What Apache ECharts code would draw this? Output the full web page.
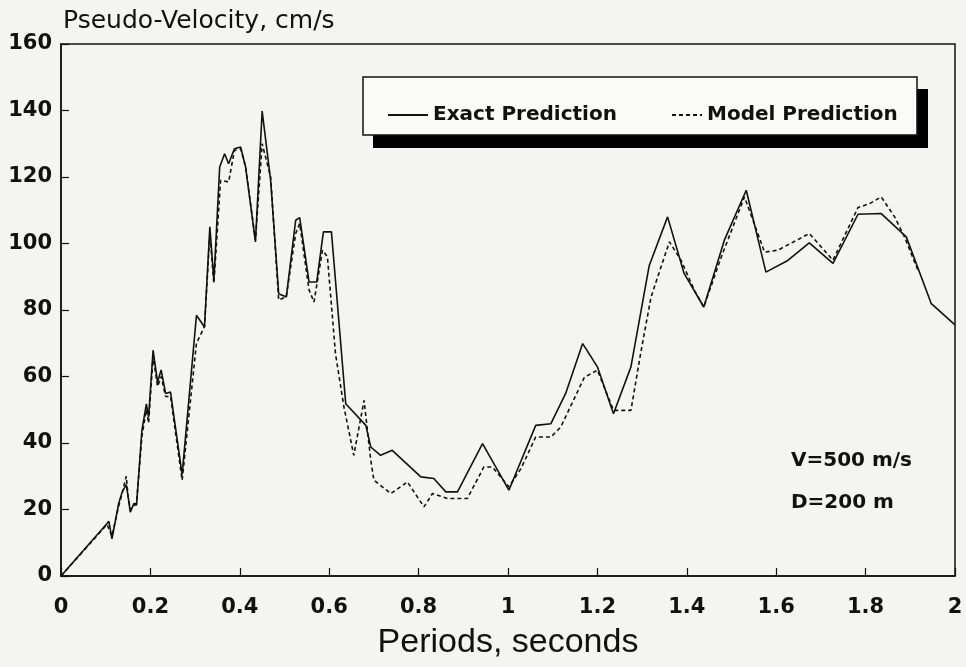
<!DOCTYPE html>
<html>
<head>
<meta charset="utf-8">
<script src="https://cdn.jsdelivr.net/npm/echarts@6/dist/echarts.min.js"></script>
<style>
  html, body { margin: 0; padding: 0; background: #f4f4f2; }
  #main { width: 966px; height: 667px; }
</style>
</head>
<body>
<div id="main"></div>
<script>
// period (s) and pseudo-velocity (cm/s)
var exactX = [0, 0.103, 0.107, 0.114, 0.129, 0.137, 0.146, 0.150, 0.155, 0.163, 0.169, 0.181, 0.191, 0.196, 0.206, 0.216, 0.224, 0.234, 0.245, 0.271,
  0.303, 0.321, 0.333, 0.342, 0.355, 0.366, 0.375, 0.388, 0.402, 0.413, 0.435, 0.450, 0.469, 0.487, 0.504, 0.525, 0.534, 0.555, 0.572, 0.587,
  0.605, 0.637, 0.682, 0.693, 0.715, 0.741, 0.805, 0.834, 0.861, 0.887, 0.943, 1.002, 1.062, 1.096, 1.129, 1.167, 1.200, 1.236, 1.275, 1.316,
  1.357, 1.394, 1.438, 1.484, 1.533, 1.577, 1.626, 1.674, 1.727, 1.783, 1.835, 1.891, 1.947, 2.0];
var exactY = [0, 15.8, 16.5, 11.2, 21.8, 25.3, 27.5, 24, 19.2, 21.8, 21.3, 43.8, 51.8, 47.8, 67.9, 58.3, 62, 54.9, 55.3, 30.5,
  78.4, 74.9, 105, 88.9, 123, 127, 124, 128.5, 129, 123, 100.5, 139.8, 119, 84.9, 83.9, 107, 107.8, 88.4, 88.4, 103.5,
  103.5, 51.8, 45.3, 38.8, 36.3, 37.8, 29.8, 29.3, 25.3, 25.3, 39.8, 25.8, 45.3, 45.8, 54.9, 69.9, 62.9, 48.8, 62.9, 93.4,
  108, 91, 80.9, 101, 116, 91.4, 94.9, 100.2, 94, 108.8, 109, 102, 81.9, 75.5];

var modelX = [0, 0.103, 0.107, 0.114, 0.129, 0.137, 0.146, 0.150, 0.155, 0.163, 0.169, 0.181, 0.191, 0.196, 0.206, 0.216, 0.224, 0.234, 0.245, 0.271,
  0.303, 0.321, 0.333, 0.342, 0.357, 0.375, 0.388, 0.402, 0.413, 0.435, 0.450, 0.469, 0.487, 0.504, 0.525, 0.534, 0.555, 0.566, 0.585, 0.596,
  0.614, 0.633, 0.655, 0.678, 0.693, 0.700, 0.738, 0.775, 0.812, 0.831, 0.865, 0.909, 0.946, 0.965, 1.002, 1.029, 1.062, 1.096, 1.118, 1.171,
  1.200, 1.236, 1.275, 1.298, 1.320, 1.361, 1.387, 1.417, 1.438, 1.477, 1.529, 1.574, 1.604, 1.674, 1.727, 1.783, 1.809, 1.835, 1.865, 1.887, 1.917];
var modelY = [0, 15.5, 16, 12, 21, 25, 30, 24, 20, 21, 22, 42, 50, 46, 66, 57, 60, 54, 54, 28.8,
  70, 75, 103, 88, 119, 118.5, 128, 128.5, 123, 101, 130, 120, 83, 84, 103, 106, 86, 82.4, 98, 96,
  66.9, 50.8, 36.3, 52.8, 34.8, 28.8, 24.8, 28.3, 20.8, 24.8, 23.3, 23.3, 32.8, 32.8, 26.8, 32.3, 41.8, 41.8, 44.8, 59.8,
  61.9, 49.8, 49.8, 67.9, 83.9, 100.5, 95, 85.9, 80.9, 95.9, 114, 97.4, 98, 103, 95, 110.8, 112, 114, 108, 102, 92];

var xTicks = [0, 0.2, 0.4, 0.6, 0.8, 1, 1.2, 1.4, 1.6, 1.8, 2];
var yTicks = [0, 20, 40, 60, 80, 100, 120, 140, 160];

function pairs(xs, ys) {
  var out = [];
  for (var i = 0; i < xs.length; i++) out.push([xs[i], ys[i]]);
  return out;
}

var chart = echarts.init(document.getElementById('main'), null, { renderer: 'canvas' });

var legendText = { fontFamily: 'DejaVu Sans', fontWeight: 'bold', fontSize: 20, color: '#111' };

var option = {
  backgroundColor: '#f4f4f2',
  animation: false,
  grid: {
    left: 61, right: 11, top: 44, bottom: 91,
    show: true, borderColor: '#111', borderWidth: 1.5, backgroundColor: 'transparent'
  },
  legend: [{
    data: ['Exact Prediction'],
    left: 382, top: 100,
    itemWidth: 40, itemHeight: 14,
    itemStyle: { color: 'transparent', borderWidth: 0 },
    textStyle: legendText
  }, {
    data: ['Model Prediction'],
    left: 666, top: 100,
    itemWidth: 30, itemHeight: 14,
    itemStyle: { color: 'transparent', borderWidth: 0 },
    textStyle: legendText
  }],
  xAxis: {
    type: 'value',
    min: xTicks[0], max: xTicks[xTicks.length - 1], interval: 0.2,
    name: 'Periods, seconds',
    nameLocation: 'middle', nameGap: 50,
    nameTextStyle: { fontFamily: 'Liberation Sans', fontSize: 34, color: '#111' },
    axisLine: { lineStyle: { color: '#111', width: 1.5 } },
    axisTick: { inside: true, length: 8, lineStyle: { color: '#111', width: 1.2 } },
    axisLabel: { margin: 21, fontFamily: 'DejaVu Sans', fontWeight: 'bold', fontSize: 21, color: '#111' },
    splitLine: { show: false }
  },
  yAxis: {
    type: 'value',
    min: yTicks[0], max: yTicks[yTicks.length - 1], interval: 20,
    name: 'Pseudo-Velocity, cm/s',
    nameLocation: 'end', nameGap: 10,
    nameTextStyle: { fontFamily: 'DejaVu Sans', fontSize: 25, color: '#111', align: 'left', padding: [0, 0, 0, 2] },
    axisLine: { lineStyle: { color: '#111', width: 1.5 } },
    axisTick: { inside: true, length: 8, lineStyle: { color: '#111', width: 1.2 } },
    axisLabel: { margin: 9, fontFamily: 'DejaVu Sans', fontWeight: 'bold', fontSize: 21, color: '#111' },
    splitLine: { show: false }
  },
  graphic: [
    { type: 'rect', z: 3, shape: { x: 373, y: 89, width: 555, height: 59 }, style: { fill: '#000' } },
    { type: 'rect', z: 3, shape: { x: 363, y: 77, width: 554, height: 58 }, style: { fill: '#fafaf8', stroke: '#111', lineWidth: 1.5 } },
    { type: 'text', left: 791, top: 451, style: { text: 'V=500 m/s', fontFamily: 'DejaVu Sans', fontWeight: 'bold', fontSize: 20, fill: '#111' } },
    { type: 'text', left: 791, top: 493, style: { text: 'D=200 m', fontFamily: 'DejaVu Sans', fontWeight: 'bold', fontSize: 20, fill: '#111' } }
  ],
  series: [{
    name: 'Exact Prediction',
    type: 'line',
    symbol: 'none',
    data: pairs(exactX, exactY),
    lineStyle: { color: '#111', width: 1.6 },
    itemStyle: { color: '#111' }
  }, {
    name: 'Model Prediction',
    type: 'line',
    symbol: 'none',
    data: pairs(modelX, modelY),
    lineStyle: { color: '#111', width: 1.6, type: [4, 3] },
    itemStyle: { color: '#111' }
  }]
};
chart.setOption(option);
</script>
</body>
</html>
